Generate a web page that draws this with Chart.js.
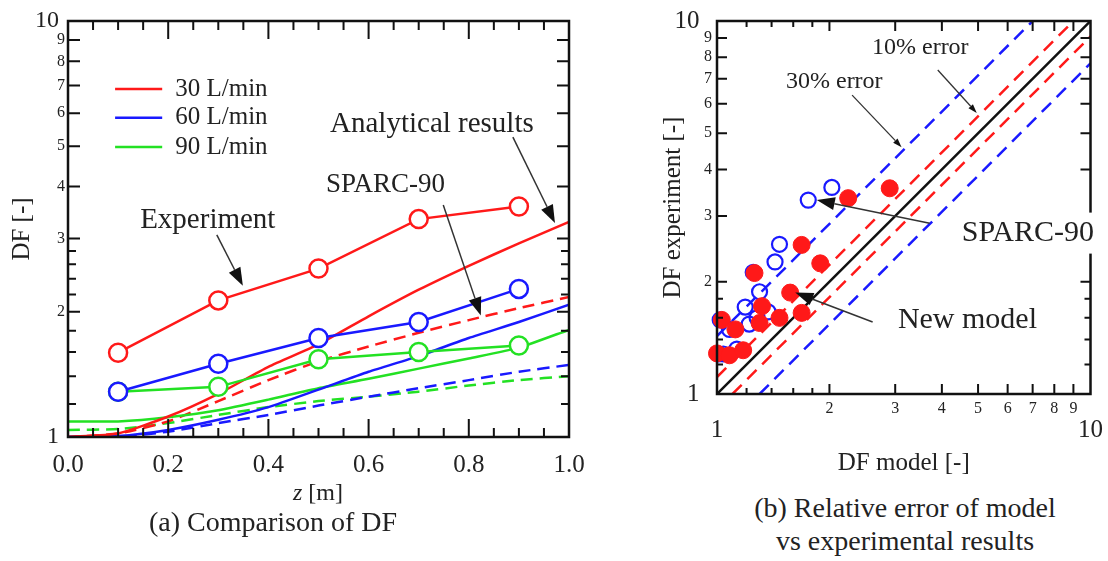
<!DOCTYPE html>
<html>
<head>
<meta charset="utf-8">
<script src="https://cdn.jsdelivr.net/npm/chart.js@4.4.0/dist/chart.umd.min.js"></script>
<style>
  body { margin: 0; background: #fff; }
  #wrap { position: relative; width: 1108px; height: 561px; background: #fff; overflow: hidden; }
  #df-canvas { position: absolute; left: 0; top: 0; }
  #err-canvas { position: absolute; left: 600px; top: 0; }
  .cap {
    position: absolute;
    transform: translate(-50%, -50%);
    white-space: nowrap;
    line-height: 1;
    color: #222;
    font-family: 'Liberation Serif', 'Times New Roman', serif;
  }
</style>
</head>
<body>
<div id="wrap">
  <canvas id="df-canvas" width="600" height="480"></canvas>
  <canvas id="err-canvas" width="508" height="480"></canvas>
  <div class="cap" style="left:318px; top:492px; font-size:24px;"><i>z</i> [m]</div>
  <div class="cap" style="left:273px; top:522px; font-size:28px;">(a) Comparison of DF</div>
  <div class="cap" style="left:905px; top:508px; font-size:28px;">(b) Relative error of model</div>
  <div class="cap" style="left:905px; top:541px; font-size:28px;">vs experimental results</div>
</div>

<script>
  const SERIF = "'Liberation Serif', 'Times New Roman', serif";
  const RED = 'rgb(255, 25, 25)';
  const BLUE = 'rgb(25, 25, 255)';
  const GREEN = 'rgb(35, 225, 35)';

  // ---- (a) DF along z ----
  // experiment points
  let z_exp = [0.1, 0.3, 0.5, 0.7, 0.9];
  let exp_30 = [1.595, 2.13, 2.54, 3.34, 3.58];
  let exp_60 = [1.285, 1.50, 1.73, 1.89, 2.27];
  let exp_90 = [1.285, 1.32, 1.537, 1.60, 1.66];

  // analytical results (solid) and SPARC-90 (dashed)
  let z_model = [0, 0.1, 0.2, 0.3, 0.4, 0.5, 0.6, 0.7, 0.8, 0.9, 1.0];
  let ana_30 = [1.00, 1.02, 1.12, 1.27, 1.475, 1.67, 1.95, 2.26, 2.58, 2.92, 3.29];
  let ana_60 = [1.00, 1.005, 1.04, 1.10, 1.18, 1.30, 1.435, 1.565, 1.73, 1.89, 2.08];
  let ana_90 = [1.09, 1.09, 1.115, 1.16, 1.23, 1.31, 1.38, 1.46, 1.545, 1.64, 1.81];
  let sparc_30 = [1.00, 1.02, 1.09, 1.22, 1.37, 1.52, 1.65, 1.78, 1.91, 2.04, 2.17];
  let sparc_60 = [1.00, 1.00, 1.03, 1.08, 1.13, 1.19, 1.25, 1.31, 1.37, 1.435, 1.49];
  let sparc_90 = [1.04, 1.045, 1.08, 1.13, 1.18, 1.22, 1.25, 1.285, 1.33, 1.37, 1.40];

  let z_ticks = [0, 0.2, 0.4, 0.6, 0.8, 1.0];
  let log_ticks = [1, 2, 3, 4, 5, 6, 7, 8, 9, 10];

  // ---- (b) model vs experiment ----
  let sparc_model = [1.02, 1.25, 1.47, 1.755, 2.03, 1.01, 1.08, 1.19, 1.30, 1.43, 1.04, 1.13, 1.22, 1.28, 1.37];
  let sparc_exp = [1.58, 2.12, 2.52, 3.31, 3.58, 1.28, 1.49, 1.71, 1.88, 2.26, 1.28, 1.32, 1.54, 1.60, 1.66];
  let new_model = [1.03, 1.26, 1.685, 2.245, 2.90, 1.00, 1.12, 1.32, 1.57, 1.89, 1.08, 1.175, 1.30, 1.47, 1.685];
  let new_exp = [1.58, 2.11, 2.51, 3.35, 3.56, 1.285, 1.49, 1.72, 1.87, 2.24, 1.27, 1.31, 1.55, 1.60, 1.65];

  // error lines: x ends, y ends
  let diag_x = [1, 10], diag_y = [1, 10];
  let up10_x = [1, 9], up10_y = [1.11, 10];
  let lo10_x = [1.1, 10], lo10_y = [1, 9.09];
  let up30_x = [1, 7], up30_y = [1.43, 10];
  let lo30_x = [1.3, 10], lo30_y = [1, 7.7];

  let pairs = (xs, ys) => xs.map((x, i) => ({x: x, y: ys[i]}));
  let setLogTicks = s => { s.ticks = log_ticks.map(v => ({value: v})); };

  // draws inward ticks, frame, legend, labels and arrows for one chart
  function makeOverlay(cfg) {
    return {
      id: 'overlay',
      afterDraw(chart) {
        const ctx = chart.ctx;
        const a = chart.chartArea;
        const sx = chart.scales.x, sy = chart.scales.y;
        const px = v => sx.getPixelForValue(v);
        const py = v => sy.getPixelForValue(v);
        ctx.save();
        ctx.strokeStyle = '#111';
        ctx.lineWidth = 2;
        ctx.beginPath();
        cfg.xTicks.forEach(t => t.vals.forEach(v => {
          let p = px(v);
          ctx.moveTo(p, a.bottom); ctx.lineTo(p, a.bottom - t.len);
          ctx.moveTo(p, a.top); ctx.lineTo(p, a.top + t.len);
        }));
        cfg.yTicks.forEach(t => t.vals.forEach(v => {
          let p = py(v);
          ctx.moveTo(a.left, p); ctx.lineTo(a.left + t.len, p);
          ctx.moveTo(a.right, p); ctx.lineTo(a.right - t.len, p);
        }));
        ctx.stroke();
        ctx.lineWidth = 2.5;
        ctx.strokeRect(a.left, a.top, a.right - a.left, a.bottom - a.top);

        // legend
        (cfg.legend || []).forEach(l => {
          ctx.strokeStyle = l.color;
          ctx.lineWidth = 2.5;
          ctx.beginPath();
          ctx.moveTo(px(l.x1), py(l.y)); ctx.lineTo(px(l.x2), py(l.y));
          ctx.stroke();
          ctx.fillStyle = '#222';
          ctx.font = '25px ' + SERIF;
          ctx.textBaseline = 'middle';
          ctx.textAlign = 'left';
          ctx.fillText(l.label, px(l.tx), py(l.y));
        });

        // arrows
        (cfg.arrows || []).forEach(r => {
          let x1 = px(r.from[0]), y1 = py(r.from[1]);
          let x2 = px(r.to[0]), y2 = py(r.to[1]);
          let ang = Math.atan2(y2 - y1, x2 - x1);
          let bx = x2 - r.head * Math.cos(ang), by = y2 - r.head * Math.sin(ang);
          ctx.strokeStyle = '#333';
          ctx.lineWidth = r.lw;
          ctx.beginPath(); ctx.moveTo(x1, y1); ctx.lineTo(bx, by); ctx.stroke();
          ctx.fillStyle = '#111';
          ctx.beginPath();
          ctx.moveTo(x2, y2);
          ctx.lineTo(bx + r.w / 2 * Math.sin(ang), by - r.w / 2 * Math.cos(ang));
          ctx.lineTo(bx - r.w / 2 * Math.sin(ang), by + r.w / 2 * Math.cos(ang));
          ctx.closePath();
          ctx.fill();
        });

        // text labels
        (cfg.labels || []).forEach(t => {
          ctx.font = t.size + 'px ' + SERIF;
          ctx.textBaseline = 'middle';
          ctx.textAlign = 'left';
          let x = px(t.x), y = py(t.y);
          if (t.bg) {
            let w = ctx.measureText(t.text).width;
            ctx.fillStyle = '#fff';
            ctx.fillRect(x - 6, y - t.size * 0.55 - 4, w + 12, t.size * 1.1 + 8);
          }
          ctx.fillStyle = '#222';
          ctx.fillText(t.text, x, y);
        });
        ctx.restore();
      }
    };
  }

  // ---------- chart (a) ----------
  let df_ctx = document.getElementById('df-canvas').getContext('2d');
  let expSet = (label, ys, color) => ({
    label: label, data: pairs(z_exp, ys), borderColor: color, borderWidth: 2.5,
    pointRadius: 9, pointBorderWidth: 2.5, pointBorderColor: color, pointBackgroundColor: '#fff'
  });
  let modelSet = (label, ys, color, dash) => ({
    label: label, data: pairs(z_model, ys), borderColor: color, borderWidth: 2.5,
    pointRadius: 0, borderDash: dash ? [12, 7] : [], tension: 0.2
  });

  let df_chart = new Chart(df_ctx, {
    type: 'line',
    data: {
      datasets: [
        expSet('Exp 30', exp_30, RED),
        expSet('Exp 60', exp_60, BLUE),
        expSet('Exp 90', exp_90, GREEN),
        modelSet('Analytical 30', ana_30, RED, false),
        modelSet('Analytical 60', ana_60, BLUE, false),
        modelSet('Analytical 90', ana_90, GREEN, false),
        modelSet('SPARC 30', sparc_30, RED, true),
        modelSet('SPARC 60', sparc_60, BLUE, true),
        modelSet('SPARC 90', sparc_90, GREEN, true)
      ]
    },
    options: {
      responsive: false,
      animation: false,
      layout: { padding: { top: 21, right: 31, left: 0, bottom: 0 } },
      plugins: { legend: { display: false }, tooltip: { enabled: false } },
      scales: {
        x: {
          type: 'linear', min: 0, max: 1,
          afterFit: s => { s.height = 43; },
          grid: { display: false, drawTicks: false },
          border: { display: false },
          afterBuildTicks: s => { s.ticks = z_ticks.map(v => ({value: v})); },
          ticks: {
            padding: 13, maxRotation: 0, autoSkip: false, color: '#222',
            font: { family: SERIF, size: 25 },
            callback: v => Number(v).toFixed(1)
          }
        },
        y: {
          type: 'logarithmic', min: 1, max: 10,
          afterFit: s => { s.width = 68; },
          afterBuildTicks: setLogTicks,
          grid: { display: false, drawTicks: false },
          border: { display: false },
          ticks: {
            padding: 3, autoSkip: false, color: '#222',
            font: c => (c.tick && (c.tick.value === 1 || c.tick.value === 10)) ?
              { family: SERIF, size: 24 } : { family: SERIF, size: 16 },
            callback: v => (v === 1 || v === 10) ? v + ' ' : String(v)
          },
          title: {
            display: true, text: 'DF [-]', color: '#222',
            font: { family: SERIF, size: 25 }, padding: { top: 7, bottom: 0 }
          }
        }
      }
    },
    plugins: [makeOverlay({
      xTicks: [
        { vals: [0.2, 0.4, 0.6, 0.8], len: 18 },
        { vals: [0.05, 0.1, 0.15, 0.25, 0.3, 0.35, 0.45, 0.5, 0.55, 0.65, 0.7, 0.75, 0.85, 0.9, 0.95], len: 9 }
      ],
      yTicks: [
        { vals: [2, 3, 4, 5, 6, 7, 8, 9], len: 12 },
        { vals: [1.2, 1.4, 1.6, 1.8, 2.2, 2.4, 2.6, 2.8], len: 8 }
      ],
      legend: [
        { color: RED, x1: 0.094, x2: 0.188, tx: 0.214, y: 6.86, label: '30 L/min' },
        { color: BLUE, x1: 0.094, x2: 0.188, tx: 0.214, y: 5.85, label: '60 L/min' },
        { color: GREEN, x1: 0.094, x2: 0.188, tx: 0.214, y: 4.98, label: '90 L/min' }
      ],
      arrows: [
        { from: [0.297, 3.06], to: [0.349, 2.31], head: 18, w: 13, lw: 1.5 },
        { from: [0.888, 5.26], to: [0.972, 3.27], head: 18, w: 13, lw: 1.5 },
        { from: [0.749, 3.61], to: [0.824, 1.96], head: 18, w: 13, lw: 1.5 }
      ],
      labels: [
        { text: 'Experiment', x: 0.144, y: 3.32, size: 29 },
        { text: 'Analytical results', x: 0.523, y: 5.65, size: 29 },
        { text: 'SPARC-90', x: 0.515, y: 4.03, size: 27 }
      ]
    })]
  });

  // ---------- chart (b) ----------
  let err_ctx = document.getElementById('err-canvas').getContext('2d');
  let lineSet = (xs, ys, color, dash) => ({
    type: 'line', data: pairs(xs, ys), borderColor: color, borderWidth: 2.5,
    pointRadius: 0, borderDash: dash ? [13, 8] : [], showLine: true
  });
  let bigTick = c => c.tick && (c.tick.value === 1 || c.tick.value === 10);

  let err_chart = new Chart(err_ctx, {
    type: 'scatter',
    data: {
      datasets: [
        {
          label: 'New model', data: pairs(new_model, new_exp), clip: false,
          pointRadius: 8.5, pointBackgroundColor: RED, pointBorderColor: RED, pointBorderWidth: 1
        },
        {
          label: 'SPARC-90', data: pairs(sparc_model, sparc_exp), clip: false,
          pointRadius: 7.5, pointBackgroundColor: 'rgba(0,0,0,0)', pointBorderColor: BLUE, pointBorderWidth: 2.2
        },
        lineSet(diag_x, diag_y, '#111', false),
        lineSet(up10_x, up10_y, RED, true),
        lineSet(lo10_x, lo10_y, RED, true),
        lineSet(up30_x, up30_y, BLUE, true),
        lineSet(lo30_x, lo30_y, BLUE, true)
      ]
    },
    options: {
      responsive: false,
      animation: false,
      layout: { padding: { top: 21, right: 17, left: 0, bottom: 0 } },
      plugins: { legend: { display: false }, tooltip: { enabled: false } },
      scales: {
        x: {
          type: 'logarithmic', min: 1, max: 10,
          afterFit: s => { s.height = 86; },
          afterBuildTicks: setLogTicks,
          grid: { display: false, drawTicks: false },
          border: { display: false },
          ticks: {
            padding: 5, maxRotation: 0, autoSkip: false, color: '#222',
            font: c => bigTick(c) ? { family: SERIF, size: 25, lineHeight: 0.85 } : { family: SERIF, size: 16 },
            callback: v => (v === 1 || v === 10) ? ['', String(v)] : String(v)
          },
          title: {
            display: true, text: 'DF model [-]', color: '#222',
            font: { family: SERIF, size: 25 }, padding: { top: 0, bottom: 2 }
          }
        },
        y: {
          type: 'logarithmic', min: 1, max: 10,
          afterFit: s => { s.width = 117; },
          afterBuildTicks: setLogTicks,
          grid: { display: false, drawTicks: false },
          border: { display: false },
          ticks: {
            padding: 5, autoSkip: false, color: '#222',
            font: c => bigTick(c) ? { family: SERIF, size: 25 } : { family: SERIF, size: 16 },
            callback: v => (v === 1 || v === 10) ? v + '  ' : String(v)
          },
          title: {
            display: true, text: 'DF experiment [-]', color: '#222',
            font: { family: SERIF, size: 25 }, padding: { top: 58, bottom: 0 }
          }
        }
      }
    },
    plugins: [makeOverlay({
      xTicks: [
        { vals: [2, 3, 4, 5, 6, 7, 8, 9], len: 10 },
        { vals: [1.2, 1.4, 1.6, 1.8], len: 6 }
      ],
      yTicks: [
        { vals: [2, 3, 4, 5, 6, 7, 8, 9], len: 10 },
        { vals: [1.2, 1.4, 1.6, 1.8], len: 6 }
      ],
      arrows: [
        { from: [3.90, 7.39], to: [4.96, 5.67], head: 9, w: 6, lw: 1.3 },
        { from: [2.30, 6.33], to: [3.12, 4.59], head: 9, w: 6, lw: 1.3 },
        { from: [3.71, 2.87], to: [1.85, 3.31], head: 18, w: 13, lw: 1.5 },
        { from: [2.61, 1.56], to: [1.62, 1.87], head: 18, w: 13, lw: 1.5 }
      ],
      labels: [
        { text: '10% error', x: 2.60, y: 8.47, size: 24 },
        { text: '30% error', x: 1.53, y: 6.86, size: 24 },
        { text: 'SPARC-90', x: 4.52, y: 2.70, size: 30, bg: true },
        { text: 'New model', x: 3.05, y: 1.58, size: 30 }
      ]
    })]
  });
</script>
</body>
</html>
